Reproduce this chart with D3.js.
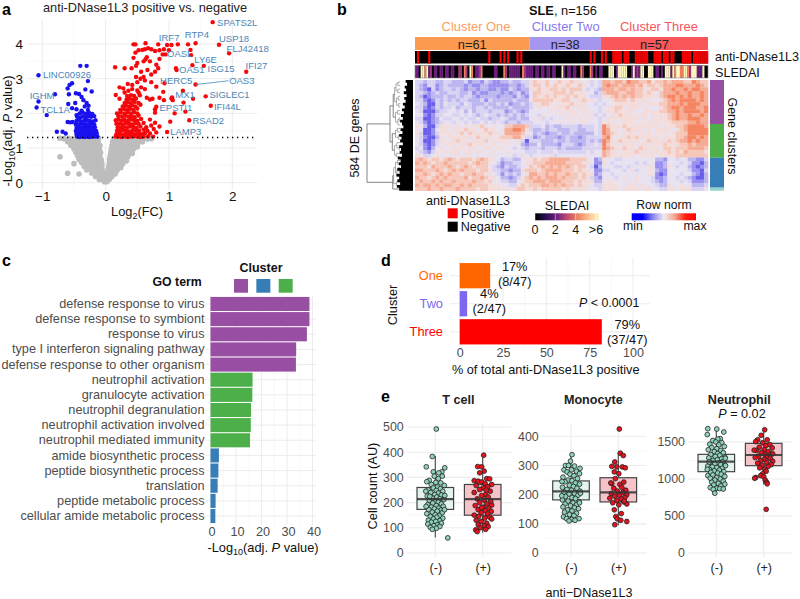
<!DOCTYPE html>
<html>
<head>
<meta charset="utf-8">
<script src="https://cdn.jsdelivr.net/npm/d3@7"></script>
<style>
html,body{margin:0;padding:0;background:#fff;}
text{font-family:"Liberation Sans",Arial,sans-serif;}
</style>
</head>
<body>
<svg id="fig" width="800" height="599"></svg>
<script>
// ---- panel a
var volcanoRed = [[1.69,4.63],[1.79,3.98],[1.95,3.73],[2.22,3.2],[1.42,4.02],[1.42,2.83],[1.58,2.49],[1.66,2.22],[1.32,1.8],[.97,1.46],[1.37,3.39],[1.55,3.37],[1.34,3.83],[1.35,3.68],[1.22,2.65],[1.38,2.42],[1.23,2.31],[1.26,2.05],[1.09,2],[1.02,1.76],[1.04,2.43],[1.05,2.46],[1.06,2.38],[.92,2.38],[.91,2.62],[.8,2.19],[.78,2.12],[.93,2.87],[.8,2.77],[1.11,3.3],[1.12,3.25],
[.44,3.99],[.47,3.99],[.63,4.02],[.83,3.99],[.97,3.97],[1.04,3.97],[1.14,3.99],[1.3,3.99],
[.16,1.33],[.2,1.33],[.25,1.32],[.3,1.33],[.35,1.32],[.4,1.33],[.45,1.34],[.5,1.33],[.55,1.32],[.6,1.33],[.67,1.34],[.75,1.33],
[.17,1.4],[.22,1.41],[.27,1.39],[.32,1.42],[.37,1.4],[.42,1.41],[.47,1.39],[.52,1.42],[.57,1.4],[.62,1.43],[.7,1.42],[.8,1.45],
[.18,1.5],[.23,1.49],[.28,1.52],[.33,1.5],[.38,1.48],[.43,1.51],[.48,1.5],[.53,1.49],[.6,1.53],[.66,1.5],[.76,1.55],
[.19,1.6],[.24,1.58],[.29,1.61],[.34,1.59],[.39,1.62],[.44,1.6],[.49,1.58],[.55,1.62],[.64,1.6],[.72,1.65],[.85,1.62],
[.17,1.7],[.22,1.7],[.27,1.68],[.32,1.72],[.37,1.7],[.42,1.68],[.47,1.71],[.52,1.7],[.6,1.72],[.78,1.73],
[.16,1.8],[.2,1.82],[.25,1.79],[.3,1.81],[.35,1.78],[.4,1.82],[.45,1.8],[.5,1.79],[.56,1.84],[.7,1.82],
[.2,1.92],[.26,1.9],[.31,1.93],[.36,1.9],[.41,1.92],[.46,1.89],[.52,1.94],[.18,2],[.24,2.02],[.3,1.99],[.35,2.03],[.4,2],[.45,2.03],[.5,2],[.78,2.02],
[.23,2.1],[.29,2.12],[.34,2.09],[.39,2.13],[.44,2.1],[.5,2.14],[.27,2.2],[.32,2.22],[.37,2.19],[.42,2.23],[.47,2.2],[.55,2.25],[.3,2.3],[.35,2.32],[.4,2.29],[.46,2.33],[.52,2.3],[.33,2.4],[.38,2.42],[.43,2.39],[.48,2.43],[.22,2.42],
[.16,2.53],[.34,2.5],[.4,2.52],[.45,2.5],[.54,2.52],[.65,2.45],[.7,2.4],[.74,2.42],[.85,2.45],
[.22,2.75],[.28,2.72],[.36,2.65],[.42,2.7],[.5,2.66],[.56,2.75],[.62,2.7],[.3,2.6],[.52,2.6],
[.35,2.85],[.42,2.82],[.5,2.9],[.62,2.95],[.72,2.9],[.55,3],[.6,3.05],[.48,3.05],[.72,3.12],[.15,3.33],[.3,3.3],[.41,3.3],[.48,3.37],[.56,3.2],[.66,3.25],[.78,3.2],[.83,3.3],
[.44,3.6],[.5,3.45],[.6,3.5],[.63,3.56],[.65,3.62],[.7,3.5],[.8,3.4],[.85,3.57],[.47,3.75],[.52,3.82],[.58,3.83],[.62,3.85],[.67,3.88],[.72,3.85],[.78,3.8],[.85,3.82],[.92,3.85],[1,3.82],[.9,3.7],[.95,3.7]];

var volcanoBlue = [[-.4,3.37],[-.3,3.37],[-1.06,3.1],[-.28,2.93],[-.53,2.87],[-.57,2.82],[-.6,2.72],[-.32,2.69],[-.22,2.63],[-.8,2.55],[-.58,2.55],[-.47,2.58],[-.42,2.56],[-.38,2.47],[-1.06,2.34],[-1.09,2.17],[-.93,1.95],[-.77,1.47],[-.68,1.47],[-.63,1.42],[-.6,1.75],[-.56,1.74],[-.59,2.27],[-.53,2.15],[-.48,2.3],[-.46,2.12],[-.35,2.38],[-.3,2.3],[-.27,2.22],[-.33,2.2],[-.28,2.1],[-.38,2.08],[-.46,1.95],[-.52,1.75],
[-.45,1.33],[-.41,1.32],[-.37,1.33],[-.33,1.32],[-.29,1.33],[-.25,1.32],[-.21,1.33],[-.17,1.33],[-.13,1.33],
[-.46,1.4],[-.42,1.41],[-.38,1.39],[-.34,1.41],[-.3,1.4],[-.26,1.41],[-.22,1.39],[-.18,1.41],[-.14,1.42],
[-.47,1.49],[-.43,1.5],[-.39,1.48],[-.35,1.5],[-.31,1.49],[-.27,1.5],[-.23,1.48],[-.19,1.5],[-.15,1.49],
[-.46,1.58],[-.42,1.6],[-.38,1.57],[-.34,1.59],[-.3,1.6],[-.26,1.58],[-.22,1.59],[-.17,1.6],
[-.47,1.68],[-.43,1.67],[-.39,1.7],[-.35,1.68],[-.31,1.69],[-.27,1.67],[-.23,1.7],[-.18,1.68],
[-.46,1.78],[-.42,1.8],[-.37,1.77],[-.33,1.79],[-.29,1.8],[-.25,1.78],[-.2,1.77],[-.16,1.8],
[-.45,1.9],[-.4,1.88],[-.36,1.91],[-.32,1.89],[-.27,1.92],[-.23,1.9],[-.18,1.92],
[-.41,2],[-.36,2.02],[-.31,1.99],[-.26,2.01],[-.21,1.98]];

var volcanoGray = [[-.72,1.28],[-.66,1.27],[-.58,1.28],[-.52,1.26],[-.46,1.28],[-.4,1.27],[-.34,1.28],[-.28,1.26],[-.22,1.28],[-.16,1.27],[-.11,1.28],[.13,1.28],[.18,1.26],[.24,1.28],[.3,1.27],[.36,1.28],[.42,1.26],[.48,1.28],[.54,1.27],[.6,1.28],[.66,1.26],[.72,1.27],
[-.6,1.18],[-.54,1.17],[-.48,1.18],[-.42,1.16],[-.36,1.18],[-.3,1.17],[-.24,1.18],[-.18,1.16],[-.12,1.18],[.11,1.18],[.16,1.17],[.22,1.16],[.28,1.18],[.34,1.17],[.4,1.18],[.46,1.16],[.52,1.17],[.58,1.18],
[-.55,1.08],[-.49,1.07],[-.43,1.08],[-.37,1.06],[-.31,1.08],[-.25,1.07],[-.19,1.08],[-.13,1.06],[-.09,1.07],[.1,1.07],[.15,1.06],[.21,1.08],[.27,1.07],[.33,1.08],[.39,1.06],[.45,1.07],[.5,1.04],
[-.5,.97],[-.45,.98],[-.39,.96],[-.33,.98],[-.27,.97],[-.21,.98],[-.15,.96],[-.1,.97],[.09,.97],[.14,.96],[.2,.98],[.26,.97],[.32,.98],[.38,.96],[.44,.97],
[-.47,.87],[-.41,.88],[-.35,.86],[-.29,.88],[-.23,.87],[-.17,.88],[-.11,.86],[-.08,.87],[.08,.87],[.13,.86],[.19,.88],[.25,.87],[.31,.88],[.37,.86],[.42,.84],
[-.72,.75],[-.44,.77],[-.38,.78],[-.32,.76],[-.26,.78],[-.2,.77],[-.14,.78],[-.09,.76],[.07,.77],[.12,.76],[.18,.78],[.24,.77],[.3,.78],[.35,.75],
[-.42,.67],[-.36,.68],[-.3,.66],[-.24,.68],[-.18,.67],[-.12,.68],[-.07,.66],[.06,.67],[.11,.66],[.17,.68],[.23,.67],[.29,.66],[.33,.63],
[-.5,.55],[-.38,.58],[-.32,.56],[-.26,.58],[-.2,.57],[-.14,.56],[-.09,.58],[-.06,.55],[.06,.57],[.1,.56],[.16,.58],[.22,.57],[.27,.55],
[-.34,.47],[-.28,.48],[-.22,.46],[-.16,.48],[-.11,.47],[-.06,.46],[.05,.47],[.09,.46],[.15,.48],[.2,.46],[.24,.43],
[-.3,.37],[-.24,.38],[-.19,.36],[-.14,.38],[-.09,.37],[-.05,.36],[.04,.37],[.08,.36],[.13,.38],[.18,.36],
[-.6,.27],[-.42,.25],[-.22,.28],[-.17,.27],[-.12,.28],[-.07,.26],[-.03,.27],[.03,.27],[.07,.26],[.11,.28],[.15,.25],
[-.16,.18],[-.11,.18],[-.07,.17],[-.03,.18],[0,.16],[.03,.18],[.06,.17],[.1,.18],
[-.1,.09],[-.06,.1],[-.03,.08],[0,.09],[.03,.08],[.06,.1],[-.02,.03],[.02,.03],[0,.04]];

var volcanoLabels = ["SPATS2L","USP18","FLJ42418","IFI27","RTP4","IRF7","OASL","LY6E","OAS1","ISG15","HERC5","OAS3","MX1","SIGLEC1","EPSTI1","IFI44L","RSAD2","LAMP3","LINC00926","IGHM","TCL1A"];
var volcanoLabelX = [1.76,1.79,1.91,2.21,1.25,.84,.97,1.4,1.16,1.61,.86,1.95,1.1,1.64,.85,1.71,1.37,1.02,-.99,-1.2,-1.03];
var volcanoLabelY = [4.63,4.16,3.87,3.39,4.26,4.18,3.71,3.55,3.27,3.3,2.95,2.95,2.53,2.53,2.18,2.2,1.79,1.47,3.12,2.52,2.12];
var volcanoLeader = [[1.42,2.83],[1.94,2.94]];
var volcanoThreshold = 1.3;

// ---- panel b
var clusterNames = ["Cluster One","Cluster Two","Cluster Three"];
var clusterSizes = [61,38,57];
var clusterColors = ["#fb9a50","#a597f0","#f9575a"];
var clusterTextColors = ["#f9a060","#8678ee","#f8555c"];
var positiveSamples = [1,7,39,45,47,49,54,56,93,95,99,101,105,106,107,108,109,111,112,113,117,118,119,120,121,122,123,127,128,129,130,132,133,134,136,137,142,143,144,145,146,148,149,150,151,152,153,154,155];
var sledaiClass = "220554523022022022022003304305402234000000220004302222220432222022022022022000520220220043000430202200055502555550025232550055502202055525455445543555222 5".replace(/ /g,"");
var heatRows = [
"3323322332223122132112232233 565564565565545343 77677687766756676777668766",
"3213312322221211221111122123 566465655654654343 78776777675665677788777876",
"3210312332321221221121132122 556556656566643432 77767767665566577877878877",
"3321232233322312112221212312 466555666565554423 67776677665654677787787787",
"3201222322323321222212221321 465565655656554333 55676767665555678878787787",
"3310132323233222313222223222 566666556654565543 44566656555544567878888787",
"4320032433324322232232312232 355665455565554434 34455555554555667778788877",
"3310132334233323323222232222 345454555654554443 45566455545444567887888778",
"4300023344342423332333123212 444445454555455443 45565555445555667787888878",
"4410133443343432343323232323 443544445455454534 34556554555455556787787787",
"3300124334434334332334322322 445343444544545443 45555555545455556787788877",
"4310123443443433434343233233 344434454454454443 55544555454555555666677877",
"5420035554545455654544667776 333423223333233343 86555655555555455566788887",
"4400145545556554565545778875 322323322233223343 87554565554545555456788888",
"5300135554564655556554777764 423212232232222243 87654555455545554566688888",
"4310025455555546555456667753 312322212322123333 78545565655555455566788787",
"4300135545655455564555544530 333222322322223232 87556555545655556567787877",
"4310134555455655545544544421 224222213332123343 86554555455455565556676777",
"3410245445554554455455443432 333233323222233333 87655655565555466566677776",
"4321354555545545544544544443 334333433333334344 76554555655455556565766665",
"5433454444544544445444443454 344445344444444444 76555555455554555566666666",
"6765665676566656765542332245 565667777766665412 54433444444442214434422113",
"7676566766666567665431223345 566677777666655411 54344444343441124443431102",
"6665766676567656664321322344 656767676765664302 44433434444541125434421012",
"7766676567676665665332212256 665677776665655411 33444345344542114444431103",
"6676567676656676655431323245 776676766766565512 44344444444541014443442102",
"7665676766667566765542212356 767677767666565321 44434544544431124434321002",
"6766767667666676656443322456 677767776665655522 45544444544432124443431112",
"7677676776676766665554433565 666776767665655433 55554455454443225445442223",
"6667667666766665665555545665 565666665655554443 55554555545544335545553334"
].map(function(r){return r.replace(/ /g,"");});
var heatStops = ["#6a5dea","#9a91ee","#bdb7f0","#d8d3f2","#e8e2f0","#f2dcdc","#f5c8bb","#f6ab95","#f58563"];
var geneClusterSizes = [232,178,158,16];
var geneClusterColors = ["#984ea3","#4daf4a","#377eb8","#8dd3c7"];
// [height, child, child]; a plain number is a leaf with its height
var dendroTree = [1,
  [.5,
    [.43,[.4,[.37,[.33,.28,.28],[.33,.28,.28]],[.36,[.32,.28,.28],[.31,.28,.28]]],[.38,[.34,.28,.28],[.33,[.3,.28,.28],.28]]],
    [.45,[.38,[.34,.28,.28],[.32,.28,.28]],[.4,[.35,.28,[.3,.28,.28]],[.36,.28,.28]]]
  ],
  [.44,[.42,[.38,[.34,.28,.28],[.35,[.33,.28,.28],[.3,.28,.28]]],[.36,.28,.28]],.28]
];
var combEdge = [.12,.16,.13,.18,.15,.2,.14,.19,.16,.22,.18,.24,.2,.26,.22,.28,.24,.21,.27,.23,.3,.25,.28,.22,.3,.26,.29,.24,.33,.27,.31,.26,.34,.29,.36,.3,.34,.28,.35,.3];

// ---- panel c
var goTerms = ["defense response to virus","defense response to symbiont","response to virus","type I interferon signaling pathway","defense response to other organism","neutrophil activation","granulocyte activation","neutrophil degranulation","neutrophil activation involved","neutrophil mediated immunity","amide biosynthetic process","peptide biosynthetic process","translation","peptide metabolic process","cellular amide metabolic process"];
var goValues = [38.8,38.8,37.8,33.6,33.5,16.5,16.4,15.9,15.8,15.5,3.3,3.1,2.8,2,1.9];
var goCluster = [0,0,0,0,0,2,2,2,2,2,1,1,1,1,1];
var goColors = ["#984ea3","#377eb8","#4daf4a"];

// ---- panel d
var dClusters = ["One","Two","Three"];
var dValues = [17.6,4.3,82];
var dColors = ["#ff6600","#7b68ee","#ff0000"];
var dPercent = ["17%","4%","79%"];
var dCounts = ["(8/47)","(2/47)","(37/47)"];

// ---- panel e, points are [jitter, value]
var tCellNeg = [[.1,492],[-.3,383],[-.9,342],[-.2,322],[.95,338],[.65,322],[.35,318],[.7,305],[-.1,305],[.3,295],[-.6,288],[-.85,283],[.05,280],[.55,278],[-.4,272],[.9,268],[.2,262],[-.2,258],[.5,255],[-.7,250],[.1,248],[.75,245],[-.45,240],[.3,238],[-.05,232],[.6,230],[-.8,226],[.15,222],[-.3,218],[.45,215],[.85,212],[-.6,208],[0,205],[.3,202],[-.25,198],[.6,195],[-.75,192],[.1,188],[.8,185],[-.4,182],[.35,178],[-.1,175],[-.65,172],[.55,170],[.2,166],[-.3,162],[.7,160],[-.85,156],[0,152],[.4,148],[-.5,145],[.15,142],[.75,138],[-.2,135],[-.7,130],[.45,128],[.05,125],[-.4,122],[.6,118],[-.75,115],[.2,112],[-.15,108],[.45,105],[-.5,102],[.1,98],[-.3,94],[1.25,60],[-.95,245],[.92,172],[-.55,225],[.95,228],[-.92,185]];
var tCellPos = [[.1,388],[-.5,343],[-.1,342],[.15,325],[-.3,318],[.4,295],[.7,294],[-.85,287],[-.45,285],[-.1,282],[.25,275],[.9,272],[-.65,268],[.5,262],[.05,258],[-.3,252],[.75,245],[-.85,240],[.3,232],[-.1,228],[.55,222],[-.55,215],[.15,210],[.8,205],[-.3,200],[.4,195],[.9,190],[-.75,188],[.05,182],[.6,178],[-.45,172],[.25,168],[.85,165],[-.15,160],[.5,155],[-.85,150],[-.4,145],[.7,142],[.2,138],[.9,135],[-.65,130],[-.15,125],[.4,118],[-.45,112],[.15,108],[.55,105],[-.25,100],[-.7,92],[.3,94],[-.55,85],[-.1,180],[.35,250]];
var monoNeg = [[.1,337],[-.05,315],[-.55,300],[-.25,300],[.35,298],[.9,290],[-.7,285],[.05,285],[.55,280],[-.4,278],[.85,272],[-.1,270],[.3,265],[-.8,260],[.65,255],[-.3,250],[.1,248],[-.6,244],[.45,240],[.85,236],[-.15,232],[.25,228],[-.85,225],[.6,222],[-.4,218],[.05,215],[.9,212],[-.7,208],[.35,205],[-.2,202],[.7,198],[-.55,194],[.1,190],[.45,186],[-.85,182],[-.3,178],[.8,176],[.2,172],[-.6,168],[.55,165],[-.05,162],[-.8,158],[.35,155],[.75,152],[-.35,148],[.1,144],[-.65,140],[.55,136],[-.15,132],[.3,128],[-.75,124],[.8,118],[-.45,118],[.05,115],[.4,112],[-.2,110],[.85,172],[-.9,245],[.95,205],[-.92,196]];
var monoPos = [[.1,425],[.2,342],[.5,334],[-.35,312],[-.65,297],[-.15,295],[.4,295],[-.4,278],[.05,272],[-.3,255],[.55,243],[-.65,238],[.15,235],[.35,225],[-.45,222],[.75,215],[-.1,212],[.45,207],[-.7,204],[.85,200],[.1,198],[-.35,195],[.65,190],[-.85,188],[.3,185],[-.15,180],[.55,175],[-.55,172],[.85,168],[.05,165],[-.4,148],[.3,135],[-.25,125],[-.1,117],[.25,112],[.85,108],[-.35,97],[.6,178],[-.75,240],[.7,292]];
var neutNeg = [[.05,1675],[-.85,1680],[.75,1635],[-.9,1600],[.4,1545],[.15,1540],[-.35,1520],[-.05,1500],[.55,1490],[-.65,1470],[.25,1460],[.8,1440],[-.45,1425],[.05,1410],[-.8,1395],[.45,1385],[-.2,1370],[.7,1355],[.15,1345],[-.55,1330],[.35,1320],[-.1,1305],[.85,1295],[-.75,1285],[.55,1275],[.1,1260],[-.35,1250],[.7,1240],[-.6,1225],[.25,1215],[-.15,1205],[.45,1195],[.85,1185],[-.85,1175],[-.4,1165],[.05,1155],[.6,1145],[-.7,1130],[.3,1120],[-.2,1110],[.75,1100],[-.55,1090],[.15,1080],[.5,1065],[-.35,1055],[-.85,1045],[.85,1035],[.05,1020],[-.6,1010],[.4,1000],[-.15,985],[.7,970],[-.45,955],[.2,940],[.85,930],[-.25,920],[.45,905],[-.6,885],[.05,875],[.35,870],[.7,865],[-.3,860],[-.15,808],[-.7,1230],[.9,1280],[-.9,1130],[.92,1180]];
var neutPos = [[.1,1665],[-.25,1590],[-.6,1530],[.35,1530],[-.8,1505],[-.1,1490],[.6,1465],[.2,1450],[-.45,1430],[.85,1420],[.05,1395],[-.7,1385],[.45,1370],[-.2,1355],[.75,1340],[.15,1325],[-.5,1310],[.4,1300],[-.85,1290],[.65,1280],[.05,1265],[-.3,1250],[.9,1240],[.3,1225],[-.6,1215],[.75,1195],[-.15,1185],[.45,1170],[-.4,1150],[.1,1130],[.25,1105],[-.1,1070],[-.8,1020],[-.9,1010],[-.3,1045],[0,1030],[.15,985],[.3,955],[.35,935],[.25,590],[.9,1340],[-.95,1390]];
var tCellBox = [173,214,260,62,385,150,214,272,80,392];
var monoBox = [182,211,247,107,336,175,208,258,95,345];
var neutBox = [1099,1234,1333,810,1680,1180,1324,1482,925,1665];
var boxCategories = ["(-)","(+)"];

var svg = d3.select("#fig");
var gridMajor = "#ececec", gridMinor = "#f5f5f5", tickGray = "#4d4d4d";

function txt(x, y, s, size, anchor, color, weight) {
    return svg.append("text").attr("x", x).attr("y", y).text(s)
        .style("font-size", size + "px").attr("text-anchor", anchor || "start")
        .attr("fill", color || "#000").style("font-weight", weight || "normal");
}
function gridLines(g, vals, scale, a, b, vertical, color, w) {
    g.selectAll(null).data(vals).enter().append("line")
        .attr(vertical ? "x1" : "y1", function (d) { return scale(d); })
        .attr(vertical ? "x2" : "y2", function (d) { return scale(d); })
        .attr(vertical ? "y1" : "x1", a).attr(vertical ? "y2" : "x2", b)
        .attr("stroke", color).attr("stroke-width", w);
}
// axis without domain or tick marks, only labels
function plainAxis(g, size, color) {
    g.select(".domain").remove();
    g.selectAll(".tick line").remove();
    g.selectAll("text").style("font-size", size + "px").attr("fill", color);
}

// ======== a
var ax = d3.scaleLinear().domain([-1, 2]).range([42.3, 232.3]);
var ay = d3.scaleLinear().domain([0, 4]).range([182.7, 44]);
var ga = svg.append("g");
gridLines(ga, [-.5, .5, 1.5], ax, 20, 190, true, gridMinor, .7);
gridLines(ga, [.5, 1.5, 2.5, 3.5], ay, 27, 257, false, gridMinor, .7);
gridLines(ga, [-1, 0, 1, 2], ax, 20, 190, true, gridMajor, 1);
gridLines(ga, [0, 1, 2, 3, 4], ay, 27, 257, false, gridMajor, 1);
function volcanoDots(data, color, r) {
    ga.selectAll(null).data(data).enter().append("circle")
        .attr("cx", function (d) { return ax(d[0]); })
        .attr("cy", function (d) { return ay(d[1]); })
        .attr("r", r).attr("fill", color);
}
volcanoDots(volcanoGray, "#bdbdbd", 2.8);
volcanoDots(volcanoBlue, "#1a12ee", 2.2);
volcanoDots(volcanoRed, "#f5080c", 2.2);
ga.append("line").attr("x1", 27).attr("x2", 257)
    .attr("y1", ay(volcanoThreshold)).attr("y2", ay(volcanoThreshold))
    .attr("stroke", "#000").attr("stroke-width", 1.5).attr("stroke-dasharray", "1.3 3.7");
ga.append("line").attr("x1", ax(volcanoLeader[0][0])).attr("y1", ay(volcanoLeader[0][1]))
    .attr("x2", ax(volcanoLeader[1][0])).attr("y2", ay(volcanoLeader[1][1]))
    .attr("stroke", "#4a86b8").attr("stroke-width", .8);
ga.selectAll(null).data(volcanoLabels).enter().append("text")
    .attr("x", function (d, i) { return ax(volcanoLabelX[i]); })
    .attr("y", function (d, i) { return ay(volcanoLabelY[i]) + 3.4; })
    .text(function (d) { return d; })
    .style("font-size", "9.5px").attr("fill", "#4a86b8");
ga.append("g").attr("transform", "translate(0,188)")
    .call(d3.axisBottom(ax).tickValues([-1, 0, 1, 2]).tickFormat(d3.format("d")).tickSize(0).tickPadding(3))
    .call(plainAxis, 13.5, "#111");
ga.append("g").attr("transform", "translate(24,0)")
    .call(d3.axisLeft(ay).tickValues([0, 1, 2, 3, 4]).tickFormat(d3.format("d")).tickSize(0).tickPadding(1))
    .call(plainAxis, 13.5, "#111");
txt(2, 15, "a", 16, "start", "#000", "bold");
txt(145, 12, "anti-DNase1L3 positive vs. negative", 12.8, "middle", "#222");
var a1 = txt(137, 216, "", 12.8, "middle", "#111");
a1.append("tspan").text("Log");
a1.append("tspan").text("2").attr("dy", 3).style("font-size", "9px");
a1.append("tspan").text("(FC)").attr("dy", -3);
var a2 = svg.append("text").attr("transform", "translate(12,131) rotate(-90)").attr("text-anchor", "middle").style("font-size", "12.8px").attr("fill", "#111");
a2.append("tspan").text("-Log");
a2.append("tspan").text("10").attr("dy", 3).style("font-size", "9px");
a2.append("tspan").text("(adj. ").attr("dy", -3);
a2.append("tspan").text("P").style("font-style", "italic");
a2.append("tspan").text(" value)");

// ======== b
var sampleX = d3.scaleBand().domain(d3.range(156)).range([415, 708]).paddingInner(0);
var rowCount = heatRows.length, colCount = heatRows[0].length;
var heatX = d3.scaleBand().domain(d3.range(colCount)).range([415, 708]);
var heatY = d3.scaleBand().domain(d3.range(rowCount)).range([80, 190.7]);
var heatColor = d3.scaleLinear().domain(d3.range(9)).range(heatStops);
var gb = svg.append("g");
var defs = svg.append("defs");
var heatCells = [];
heatRows.forEach(function (r, i) {
    r.split("").forEach(function (c, j) { heatCells.push({ r: i, c: j, v: +c }); });
});
gb.append("g").selectAll("rect").data(heatCells).enter().append("rect")
    .attr("x", function (d) { return heatX(d.c); })
    .attr("y", function (d) { return heatY(d.r); })
    .attr("width", heatX.bandwidth() + .3).attr("height", heatY.bandwidth() + .3)
    .attr("fill", function (d) { return heatColor(d.v); });

var start = 0;
clusterSizes.forEach(function (n, i) {
    var x0 = sampleX(start), x1 = start + n >= 156 ? 708 : sampleX(start + n);
    gb.append("rect").attr("x", x0).attr("y", 37).attr("width", x1 - x0).attr("height", 13).attr("fill", clusterColors[i]);
    txt((x0 + x1) / 2, 48.5, "n=" + n, 12.8, "middle", "#222");
    start += n;
});
txt(476, 31, clusterNames[0], 12.9, "middle", clusterTextColors[0]);
txt(565.7, 31, clusterNames[1], 12.9, "middle", clusterTextColors[1]);
txt(659, 31, clusterNames[2], 12.9, "middle", clusterTextColors[2]);
var sle = txt(563, 15, "", 12.8, "middle", "#111");
sle.append("tspan").text("SLE").style("font-weight", "bold");
sle.append("tspan").text(", n=156");
txt(337, 15, "b", 16, "start", "#000", "bold");

gb.append("rect").attr("x", 415).attr("y", 51).attr("width", 293).attr("height", 12.5).attr("fill", "#000");
gb.selectAll(null).data(positiveSamples).enter().append("rect")
    .attr("x", function (d) { return sampleX(d); }).attr("y", 51)
    .attr("width", sampleX.bandwidth() + .3).attr("height", 12.5).attr("fill", "#f50000");
var sledaiColor = d3.scaleOrdinal().domain(["0", "1", "2", "3", "4", "5"])
    .range(["#000000", "#2a1050", "#6d1f80", "#a03a78", "#f08060", "#fdf4c0"]);
gb.append("rect").attr("x", 415).attr("y", 65.5).attr("width", 293).attr("height", 12.5).attr("fill", "#000");
gb.selectAll(null).data(sledaiClass.split("")).enter().append("rect")
    .attr("x", function (d, i) { return sampleX(i); }).attr("y", 65.5)
    .attr("width", sampleX.bandwidth() + .2).attr("height", 12.5)
    .attr("fill", function (d) { return sledaiColor(d); });
gb.append("rect").attr("x", 415).attr("y", 65.5).attr("width", 293).attr("height", 12.5).attr("fill", "none").attr("stroke", "#888").attr("stroke-width", .6);
txt(715, 61, "anti-DNase1L3", 12.6, "start", "#111");
txt(715, 76.5, "SLEDAI", 12.6, "start", "#111");

// gene cluster side bar
var geneY = d3.scaleLinear().domain([0, d3.sum(geneClusterSizes)]).range([80, 190.7]);
var cum = 0;
geneClusterSizes.forEach(function (n, i) {
    gb.append("rect").attr("x", 710).attr("y", geneY(cum)).attr("width", 14).attr("height", geneY(n) - geneY(0)).attr("fill", geneClusterColors[i]);
    cum += n;
});
svg.append("text").attr("transform", "translate(728,136) rotate(90)").attr("text-anchor", "middle").text("Gene clusters").style("font-size", "12.5px").attr("fill", "#111");
svg.append("text").attr("transform", "translate(359,138) rotate(-90)").attr("text-anchor", "middle").text("584 DE genes").style("font-size", "12.5px").attr("fill", "#111");

// dendrogram
var hx = d3.scaleLinear().domain([0, 1]).range([413, 367]);
function leafCount(n) { return typeof n === "number" ? 1 : leafCount(n[1]) + leafCount(n[2]); }
var leafY = d3.scaleLinear().domain([0, leafCount(dendroTree) - 1]).range([82, 189]);
var leafIdx = 0;
function drawNode(n) {
    if (typeof n === "number") {
        return { y: leafY(leafIdx++), h: n };
    }
    var l = drawNode(n[1]), r = drawNode(n[2]), h = n[0];
    var color = h > .42 ? "#666" : "#999";
    gb.append("path").attr("fill", "none").attr("stroke", color).attr("stroke-width", .8)
        .attr("d", "M" + hx(l.h) + "," + l.y + "H" + hx(h) + "V" + r.y + "H" + hx(r.h));
    return { y: (l.y + r.y) / 2, h: h };
}
drawNode(dendroTree);
var combY = d3.scaleLinear().domain([0, combEdge.length - 1]).range([80, 190.7]);
gb.append("path").attr("fill", "#000")
    .attr("d", d3.area().x0(function (d) { return hx(d); }).x1(hx(0)).y(function (d, i) { return combY(i); }).curve(d3.curveStepAfter)(combEdge));

// legends
txt(468, 204.5, "anti-DNase1L3", 12.6, "middle", "#111");
gb.append("rect").attr("x", 447.7).attr("y", 208.3).attr("width", 10).attr("height", 10).attr("fill", "#f50000");
gb.append("rect").attr("x", 447.7).attr("y", 221.7).attr("width", 10).attr("height", 10).attr("fill", "#000");
txt(460.7, 217.8, "Positive", 12.6, "start", "#111");
txt(460.7, 231.2, "Negative", 12.6, "start", "#111");
txt(567, 209.5, "SLEDAI", 12.5, "middle", "#111");
function gradientBar(id, stops, x, y, w, h) {
    var lg = defs.append("linearGradient").attr("id", id);
    stops.forEach(function (c, i) {
        lg.append("stop").attr("offset", i / (stops.length - 1)).attr("stop-color", c);
    });
    gb.append("rect").attr("x", x).attr("y", y).attr("width", w).attr("height", h).attr("fill", "url(#" + id + ")");
}
gradientBar("sledaiGrad", ["#000000", "#2a1050", "#6d1f80", "#c04a70", "#f08060", "#fbc090", "#fdf4c0"], 535, 213.3, 64, 7);
gradientBar("normGrad", ["#0000ff", "#0000ff", "#8f88f0", "#f0eaf0", "#f5a890", "#ff2010", "#ff0000"], 631.7, 213.3, 64.3, 7);
var sledaiTicks = d3.scaleLinear().domain([0, 6]).range([535, 596]);
gb.selectAll(null).data([0, 2, 4, 6]).enter().append("line")
    .attr("x1", function (d) { return sledaiTicks(d); }).attr("x2", function (d) { return sledaiTicks(d); })
    .attr("y1", 213.3).attr("y2", 220.3).attr("stroke", "#fff").attr("stroke-width", .5);
["0", "2", "4", ">6"].forEach(function (s, i) {
    txt(sledaiTicks(i * 2), 234, s, 12.5, "middle", "#111");
});
txt(664, 209, "Row norm", 12.2, "middle", "#111");
txt(633, 230, "min", 12.3, "middle", "#111");
txt(695, 230, "max", 12.3, "middle", "#111");

// ======== c
var cx = d3.scaleLinear().domain([0, 40]).range([210.5, 312.5]);
var cy = d3.scaleBand().domain(goTerms).range([296.4, 523.6]).paddingInner(.07).paddingOuter(.035);
var gc = svg.append("g");
gridLines(gc, [5, 15, 25, 35], cx, 296, 525, true, gridMinor, .7);
gridLines(gc, [0, 10, 20, 30, 40], cx, 296, 525, true, gridMajor, 1);
gc.selectAll(null).data(goTerms).enter().append("line")
    .attr("x1", 205).attr("x2", 316)
    .attr("y1", function (d) { return cy(d) + cy.bandwidth() / 2; })
    .attr("y2", function (d) { return cy(d) + cy.bandwidth() / 2; })
    .attr("stroke", gridMajor).attr("stroke-width", 1);
gc.selectAll(null).data(goTerms).enter().append("rect")
    .attr("x", cx(0)).attr("y", function (d) { return cy(d); })
    .attr("width", function (d, i) { return cx(goValues[i]) - cx(0); })
    .attr("height", cy.bandwidth())
    .attr("fill", function (d, i) { return goColors[goCluster[i]]; });
gc.append("g").attr("transform", "translate(204.5,0)")
    .call(d3.axisLeft(cy).tickSize(0).tickPadding(0))
    .call(plainAxis, 12.7, tickGray);
gc.append("g").attr("transform", "translate(1,524)")
    .call(d3.axisBottom(cx).tickValues([0, 10, 20, 30, 40]).tickSize(0).tickPadding(3))
    .call(plainAxis, 12.7, tickGray);
txt(2, 266, "c", 16, "start", "#000", "bold");
txt(261, 271.5, "Cluster", 12.5, "middle", "#111", "bold");
txt(201.7, 286, "GO term", 12.3, "end", "#111", "bold");
var legendX = d3.scalePoint().domain([0, 1, 2]).range([234, 278.7]);
goColors.forEach(function (c, i) {
    gc.append("rect").attr("x", legendX(i)).attr("y", 279).attr("width", 14).attr("height", 13.7).attr("fill", c);
});
var c1 = txt(263, 552, "", 12.8, "middle", "#111");
c1.append("tspan").text("-Log");
c1.append("tspan").text("10").attr("dy", 3).style("font-size", "9px");
c1.append("tspan").text("(adj. ").attr("dy", -3);
c1.append("tspan").text("P").style("font-style", "italic");
c1.append("tspan").text(" value)");

// ======== d
var dx = d3.scaleLinear().domain([0, 100]).range([459.7, 633]);
var dy = d3.scaleBand().domain(dClusters).range([262.5, 345]).paddingInner(.1).paddingOuter(.02);
var gd = svg.append("g");
gridLines(gd, [12.5, 37.5, 62.5, 87.5], dx, 258, 348, true, gridMinor, .7);
gridLines(gd, [0, 25, 50, 75, 100], dx, 258, 348, true, gridMajor, 1);
gd.selectAll(null).data(dClusters).enter().append("line")
    .attr("x1", 450).attr("x2", 650)
    .attr("y1", function (d) { return dy(d) + dy.bandwidth() / 2; })
    .attr("y2", function (d) { return dy(d) + dy.bandwidth() / 2; })
    .attr("stroke", gridMajor);
gd.selectAll(null).data(dClusters).enter().append("rect")
    .attr("x", dx(0)).attr("y", function (d) { return dy(d); })
    .attr("width", function (d, i) { return dx(dValues[i]) - dx(0); })
    .attr("height", dy.bandwidth())
    .attr("fill", function (d, i) { return dColors[i]; });
gd.append("g").attr("transform", "translate(443,0)")
    .call(d3.axisLeft(dy).tickSize(0).tickPadding(0))
    .call(plainAxis, 12.8, "#000")
    .selectAll("text").attr("fill", function (d, i) { return dColors[i]; });
gd.append("g").attr("transform", "translate(0,345)")
    .call(d3.axisBottom(dx).tickValues([0, 25, 50, 75, 100]).tickSize(0).tickPadding(3))
    .call(plainAxis, 12.5, tickGray);
var dLabelX = [514.7, 489.3, 627.3];
var dLabelY = [271, 298.3, 329.3];
dClusters.forEach(function (c, i) {
    txt(dLabelX[i], dLabelY[i], dPercent[i], 12.8, "middle", "#111");
    txt(dLabelX[i], dLabelY[i] + 14.6, dCounts[i], 12.8, "middle", "#111");
});
var dp = txt(579, 307.3, "", 12.4, "start", "#111");
dp.append("tspan").text("P").style("font-style", "italic");
dp.append("tspan").text(" < 0.0001");
svg.append("text").attr("transform", "translate(397,305) rotate(-90)").attr("text-anchor", "middle").text("Cluster").style("font-size", "12.8px").attr("fill", "#111");
txt(545.7, 374, "% of total anti-DNase1L3 positive", 12.7, "middle", "#111");
txt(381, 266, "d", 16, "start", "#000", "bold");

// ======== e
function boxPanel(cfg) {
    var g = svg.append("g");
    var y = d3.scaleLinear().domain(cfg.domain).range(cfg.range);
    var x = d3.scalePoint().domain(boxCategories).range(cfg.xr);
    var jit = d3.scaleLinear().domain([-1, 1]).range([-10, 10]);
    gridLines(g, cfg.minor, y, cfg.panel[0], cfg.panel[1], false, gridMinor, .8);
    gridLines(g, cfg.ticks, y, cfg.panel[0], cfg.panel[1], false, gridMajor, 1.1);
    gridLines(g, boxCategories, x, 423, 557, true, gridMajor, 1.1);
    boxCategories.forEach(function (c, i) {
        var b = cfg.box.slice(i * 5, i * 5 + 5), cxp = x(c);
        g.append("line").attr("x1", cxp).attr("x2", cxp).attr("y1", y(b[3])).attr("y2", y(b[4])).attr("stroke", "#444").attr("stroke-width", 1.1);
        g.append("rect").attr("x", cxp - 18.3).attr("width", 36.6).attr("y", y(b[2])).attr("height", y(b[0]) - y(b[2]))
            .attr("fill", i ? "#f6c3c9" : "#e4f3ef").attr("stroke", "#444").attr("stroke-width", 1.2);
        g.selectAll(null).data(i ? cfg.pos : cfg.neg).enter().append("circle")
            .attr("cx", function (d) { return cxp + jit(d[0]); })
            .attr("cy", function (d) { return y(d[1]); })
            .attr("r", 2.4).attr("fill", i ? "#e3121e" : "#8fd2bc").attr("stroke", "#222").attr("stroke-width", .8);
        g.append("line").attr("x1", cxp - 18.3).attr("x2", cxp + 18.3).attr("y1", y(b[1])).attr("y2", y(b[1])).attr("stroke", "#333").attr("stroke-width", 2.2).attr("opacity", .85);
    });
    g.append("g").attr("transform", "translate(" + (cfg.panel[0] - 1) + ",0)")
        .call(d3.axisLeft(y).tickValues(cfg.ticks).tickFormat(d3.format("d")).tickSize(0).tickPadding(2))
        .call(plainAxis, 12.4, tickGray);
    g.append("g").attr("transform", "translate(0,558)")
        .call(d3.axisBottom(x).tickSize(0).tickPadding(5))
        .call(plainAxis, 12.5, "#222");
    txt(cfg.titleX, 404, cfg.title, 12.6, "middle", "#222", "bold");
}
boxPanel({ title: "T cell", titleX: 458.3, domain: [0, 500], range: [553, 427], xr: [435.3, 482.7], panel: [406.7, 511.7], ticks: [0, 100, 200, 300, 400, 500], minor: [50, 150, 250, 350, 450], box: tCellBox, neg: tCellNeg, pos: tCellPos });
boxPanel({ title: "Monocyte", titleX: 593.3, domain: [0, 400], range: [553, 436.3], xr: [571, 618.3], panel: [541.7, 646.7], ticks: [0, 100, 200, 300, 400], minor: [50, 150, 250, 350], box: monoBox, neg: monoNeg, pos: monoPos });
boxPanel({ title: "Neutrophil", titleX: 739.3, domain: [0, 1500], range: [553, 442], xr: [716.3, 763.7], panel: [688, 792.3], ticks: [0, 500, 1000, 1500], minor: [250, 750, 1250], box: neutBox, neg: neutNeg, pos: neutPos });
var ep = txt(742, 418, "", 12.6, "middle", "#111");
ep.append("tspan").text("P").style("font-style", "italic");
ep.append("tspan").text(" =  0.02");
svg.append("text").attr("transform", "translate(377,486) rotate(-90)").attr("text-anchor", "middle").text("Cell count (AU)").style("font-size", "12.8px").attr("fill", "#111");
txt(589, 597, "anti\u2212DNase1L3", 12.6, "middle", "#111");
txt(381, 402, "e", 16, "start", "#000", "bold");
</script>
</body>
</html>
